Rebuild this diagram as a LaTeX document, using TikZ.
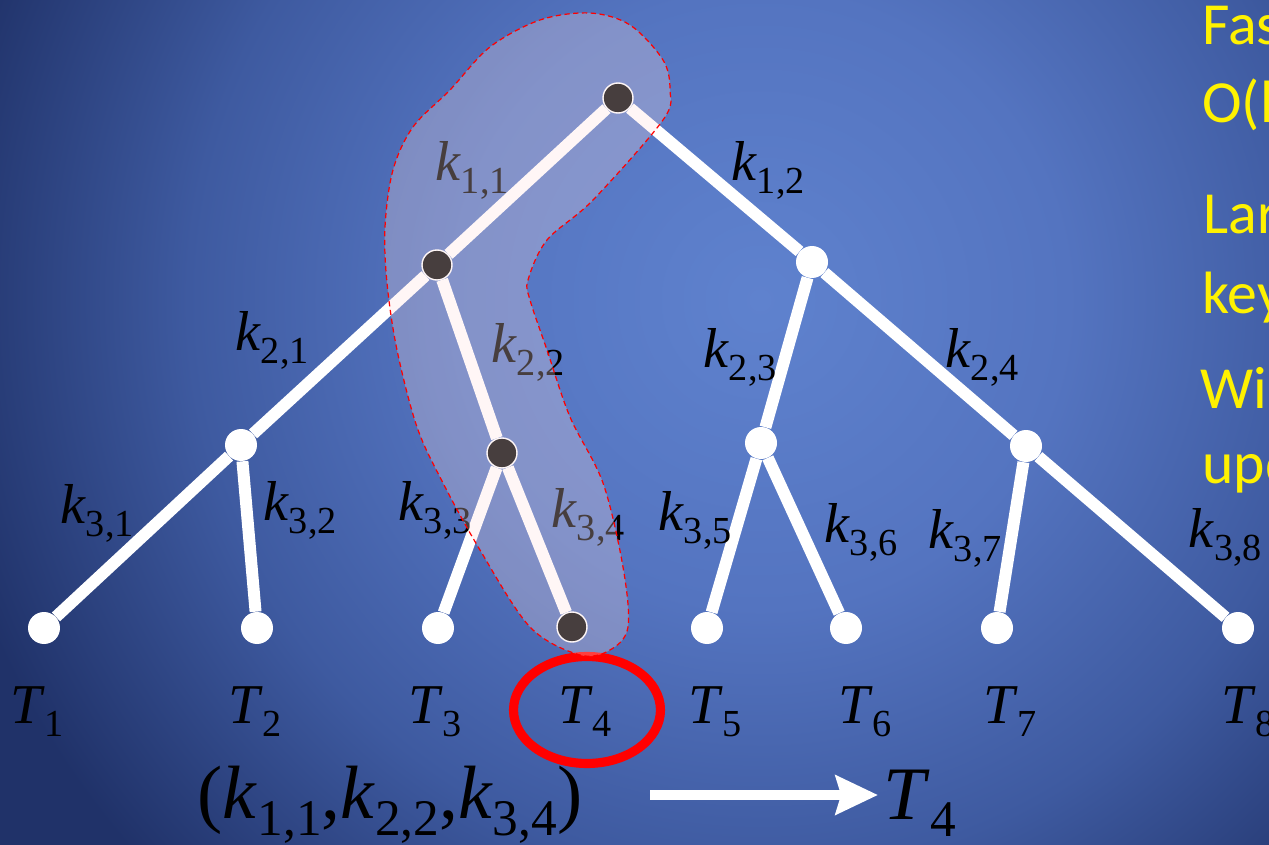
\documentclass[tikz,border=0pt]{standalone}
\usepackage{fontspec}
\setmainfont{Liberation Serif}
\newfontfamily\slidefont{Carlito}
\usepackage{graphicx}
\usepackage{xcolor}
\usetikzlibrary{arrows.meta}

\definecolor{bginner}{RGB}{95,130,206}
\definecolor{bglight}{RGB}{84,116,192}
\definecolor{bgmid}{RGB}{62,90,160}
\definecolor{bgouter}{RGB}{32,50,105}
\definecolor{blobfill}{RGB}{255,225,225}
\pgfdeclareradialshading{slidebg}{\pgfpoint{0bp}{0bp}}{color(0bp)=(bginner); color(7bp)=(bglight); color(13bp)=(bgmid); color(19bp)=(bgouter); color(50bp)=(bgouter)}

% key with upright subscript
\newcommand{\kl}[2]{\textit{#1}\raisebox{-0.23em}{\scalebox{0.68}{#2}}}

\begin{document}
\begin{tikzpicture}[x=0.02cm, y=-0.02cm,
    edge/.style={white, line width=6.8pt},
    wnode/.style={circle, fill=white, inner sep=0pt, minimum size=0.64cm},
    bnode/.style={circle, fill=black, draw=white, line width=0.8pt, inner sep=0pt, minimum size=0.6cm},
    klabel/.style={font=\fontsize{32}{36}\selectfont, inner sep=0pt},
    yellowtext/.style={font=\slidefont\fontsize{34}{40}\selectfont, text=yellow, anchor=base west, inner sep=0pt}]

        % Background of the slide
        \useasboundingbox (0,0) rectangle (1269,845);
        \clip (0,0) rectangle (1269,845);
        \fill[bgouter] (0,0) rectangle (1269,845);
        \shade[shading=slidebg] (760,300) circle (22cm);

        % Define nodes of the tree
        \node[bnode] (R) at (618,98) {};        % Root
        \node[bnode] (L) at (437,265) {};       % Left child
        \node[wnode] (M) at (812,262) {};       % Right child
        \node[wnode] (LL) at (241,445) {};
        \node[bnode] (LR) at (502,453) {};
        \node[wnode] (ML) at (761,443) {};
        \node[wnode] (MR) at (1026,446) {};

        % Define leaves
        \node[wnode] (T1) at (44,628) {};
        \node[wnode] (T2) at (257,628) {};
        \node[wnode] (T3) at (438,628) {};
        \node[bnode] (T4) at (572,627) {};
        \node[wnode] (T5) at (707,628) {};
        \node[wnode] (T6) at (846,628) {};
        \node[wnode] (T7) at (997,628) {};
        \node[wnode] (T8) at (1238,628) {};

        % Draw edges of the tree
        \draw[edge] (R) -- (L);
        \draw[edge] (R) -- (M);
        \draw[edge] (L) -- (LL);
        \draw[edge] (L) -- (LR);
        \draw[edge] (M) -- (ML);
        \draw[edge] (M) -- (MR);
        \draw[edge] (LL) -- (T1);
        \draw[edge] (LL) -- (T2);
        \draw[edge] (LR) -- (T3);
        \draw[edge] (LR) -- (T4);
        \draw[edge] (ML) -- (T5);
        \draw[edge] (ML) -- (T6);
        \draw[edge] (MR) -- (T7);
        \draw[edge] (MR) -- (T8);

        % Label edges with keys
        \node[klabel] (k11) at (472,170) {\kl{k}{1,1}};
        \node[klabel] (k12) at (768,170) {\kl{k}{1,2}};
        \node[klabel] (k21) at (272,340) {\kl{k}{2,1}};
        \node[klabel] (k22) at (528,352) {\kl{k}{2,2}};
        \node[klabel] (k23) at (740,357) {\kl{k}{2,3}};
        \node[klabel] (k24) at (982,357) {\kl{k}{2,4}};
        \node[klabel] (k31) at (97,513) {\kl{k}{3,1}};
        \node[klabel] (k32) at (300,510) {\kl{k}{3,2}};
        \node[klabel] (k33) at (435,510) {\kl{k}{3,3}};
        \node[klabel] (k34) at (588,517) {\kl{k}{3,4}};
        \node[klabel] (k35) at (695,520) {\kl{k}{3,5}};
        \node[klabel] (k36) at (861,532) {\kl{k}{3,6}};
        \node[klabel] (k37) at (965,538) {\kl{k}{3,7}};
        \node[klabel] (k38) at (1225,537) {\kl{k}{3,8}};

        % Label leaves
        \node[klabel] (t1) at (37,712) {\kl{T}{1}};
        \node[klabel] (t2) at (255,712) {\kl{T}{2}};
        \node[klabel] (t3) at (435,712) {\kl{T}{3}};
        \node[klabel] (t4) at (585,712) {\kl{T}{4}};
        \node[klabel] (t5) at (715,712) {\kl{T}{5}};
        \node[klabel] (t6) at (865,712) {\kl{T}{6}};
        \node[klabel] (t7) at (1010,712) {\kl{T}{7}};
        \node[klabel] (t8) at (1248,712) {\kl{T}{8}};

        % Red ring round the found leaf
        \draw[red, line width=5.2pt] (587,710) ellipse [x radius=1.47cm, y radius=1.07cm];

        % Highlighted search path
        \path[fill=blobfill, fill opacity=0.28, draw=red, line width=0.7pt, dash pattern=on 3pt off 2pt]
            plot[smooth cycle, tension=0.55] coordinates {
            (387,283) (385,227) (393,170) (413,127) (450,90) (490,47) (540,20) (590,13)
            (630,25) (663,60) (670,90) (663,120) (593,200) (547,240) (528,280) (530,300)
            (547,350) (570,417) (603,483) (623,567) (628,627) (610,650) (580,655)
            (530,627) (480,550) (443,483) (417,427) (397,350)};

        % Key tuple gives the leaf
        \node[font=\fontsize{43}{48}\selectfont, inner sep=0pt] (tuple) at (390,805) {(\kl{k}{1,1},\kl{k}{2,2},\kl{k}{3,4})};
        \node[font=\fontsize{43}{48}\selectfont, inner sep=0pt] (res) at (920,803) {\kl{T}{4}};
        \coordinate (a0) at (650,795);
        \coordinate (a1) at (878,795);
        \draw[white, line width=5.7pt, -{Stealth[length=24pt, width=22pt, inset=3pt]}] (a0) -- (a1);

        % Text on the right edge of the slide
        \node[yellowtext] (y1) at (1202,45) {Fas};
        \node[yellowtext] (y2) at (1202,122) {O(l};
        \node[yellowtext] (y3) at (1203,233) {Lar};
        \node[yellowtext] (y4) at (1202,313) {key};
        \node[yellowtext] (y5) at (1200,408) {Wi};
        \node[yellowtext] (y6) at (1202,483) {upd};

    \end{tikzpicture}
\end{document}
